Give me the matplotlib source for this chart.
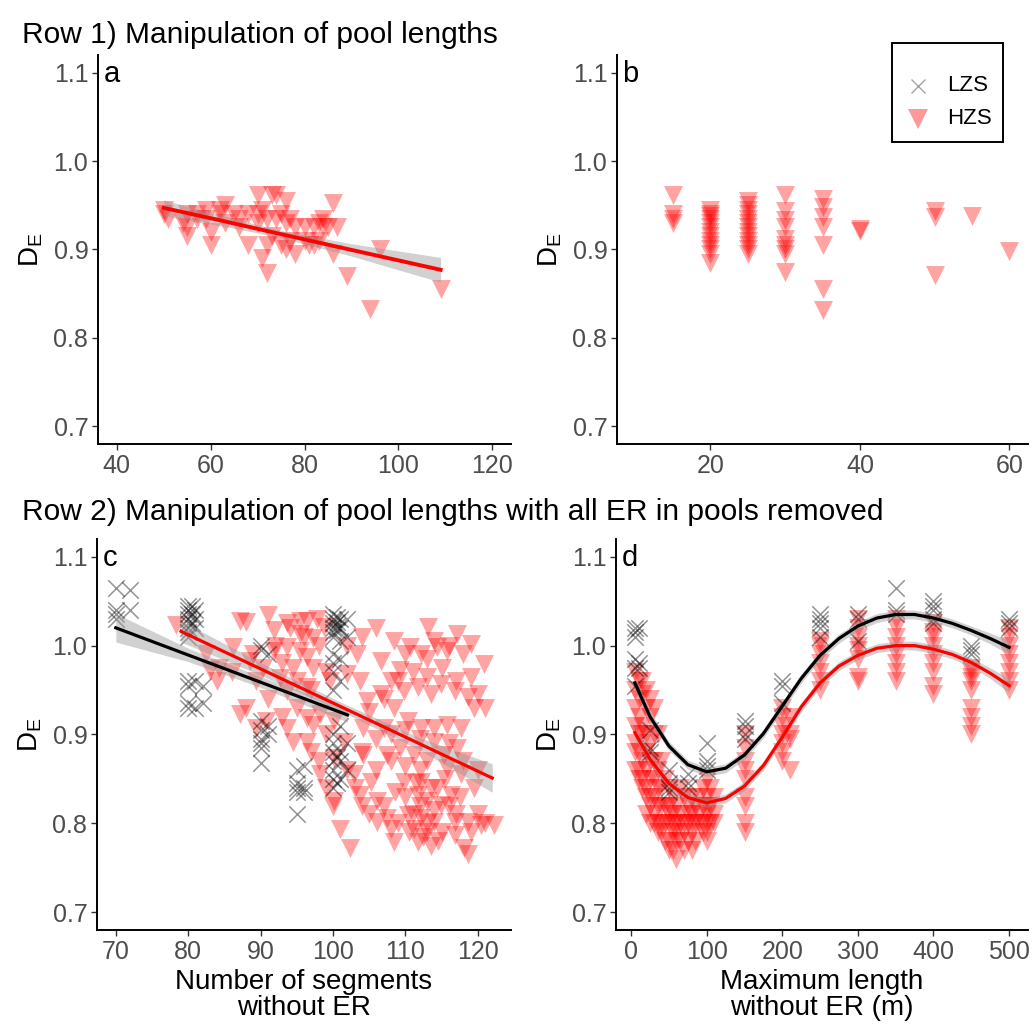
import numpy as np
import matplotlib
matplotlib.use('Agg')
import matplotlib.pyplot as plt
from matplotlib.lines import Line2D
from matplotlib.patches import Rectangle

plt.rcParams['font.family'] = ['Liberation Sans', 'DejaVu Sans']
plt.rcParams['mathtext.fontset'] = 'custom'
plt.rcParams['mathtext.rm'] = 'Liberation Sans'
plt.rcParams['mathtext.default'] = 'regular'

# Panel a: HZS, number of segments vs DE
a_x = [50, 50, 51, 54, 55, 55, 55, 57, 57, 59, 59, 60, 60, 62, 62, 63, 63, 65, 66, 66,
       68, 68, 70, 70, 70, 71, 71, 72, 72, 72, 73, 73, 74, 74, 75, 75, 76, 76, 76, 77,
       77, 78, 78, 80, 80, 81, 82, 82, 83, 83, 84, 84, 85, 86, 86, 87, 89, 94, 96, 109]
a_y = [0.94, 0.945, 0.935, 0.93, 0.915, 0.94, 0.925, 0.935, 0.94, 0.945, 0.935, 0.92, 0.905,
       0.945, 0.94, 0.95, 0.93, 0.94, 0.935, 0.925, 0.905, 0.94, 0.962, 0.94, 0.93, 0.89,
       0.945, 0.873, 0.935, 0.905, 0.962, 0.915, 0.962, 0.935, 0.94, 0.905, 0.955, 0.93,
       0.9, 0.935, 0.91, 0.925, 0.895, 0.925, 0.91, 0.905, 0.925, 0.905, 0.93, 0.91, 0.935,
       0.925, 0.925, 0.953, 0.895, 0.925, 0.87, 0.833, 0.9, 0.855]
a_fit_x = [50, 62, 74, 90, 109]
a_fit_y = [0.947, 0.933, 0.9185, 0.8995, 0.877]
a_fit_lo = [0.938, 0.927, 0.9145, 0.8925, 0.863]
a_fit_hi = [0.956, 0.939, 0.9225, 0.9065, 0.891]

# Panel b: HZS, maximum length vs DE
b_x = [15] * 4 + [20] * 13 + [25] * 13 + [30] * 9 + [35] * 7 + [40] * 2 + [50] * 3 + [55, 60]
b_y = [0.962, 0.94, 0.935, 0.93,
       0.945, 0.94, 0.938, 0.935, 0.93, 0.925, 0.92, 0.915, 0.91, 0.905, 0.9, 0.895, 0.885,
       0.955, 0.95, 0.945, 0.94, 0.935, 0.93, 0.925, 0.92, 0.915, 0.91, 0.905, 0.9, 0.895,
       0.962, 0.943, 0.933, 0.925, 0.912, 0.905, 0.9, 0.895, 0.874,
       0.957, 0.948, 0.937, 0.925, 0.905, 0.855, 0.832,
       0.923, 0.921,
       0.943, 0.937, 0.871,
       0.938, 0.898]

# Panel c: number of segments without ER
c_lzs_x = [70, 70, 70, 70, 72, 72,
           80, 80, 80, 80, 80, 80, 80, 80, 80, 80, 80, 80, 81, 81, 81, 81, 81, 82, 82,
           80.5, 80.5, 80.5,
           90, 90, 90, 90, 90, 90, 90, 90, 91, 91, 91,
           95, 95, 95, 95, 95, 96, 96, 96,
           100, 100, 100, 100, 100, 100, 100, 100, 100, 100, 100, 100, 100, 100, 100, 100, 100,
           101, 101, 101, 101, 101, 101, 101, 101, 101, 102, 102, 102, 102,
           100.5, 100.5, 100.5, 100.5, 100.5, 100.5]
c_lzs_y = [1.065, 1.04, 1.035, 1.03, 1.062, 1.04,
           1.045, 1.04, 1.035, 1.03, 1.025, 1.02, 1.015, 1.01, 0.96, 0.955, 0.935, 0.93,
           1.04, 1.03, 1.02, 0.96, 0.93, 0.935, 0.955,
           1.045, 1.035, 1.025,
           1.0, 0.995, 0.915, 0.905, 0.895, 0.89, 0.885, 0.868, 0.99, 0.91, 0.9,
           0.86, 0.845, 0.84, 0.835, 0.81, 0.84, 0.835, 0.865,
           1.035, 1.03, 1.025, 1.02, 1.015, 1.01, 0.99, 0.98, 0.97, 0.95, 0.9, 0.89, 0.88,
           0.87, 0.86, 0.85, 0.84,
           1.03, 1.02, 1.005, 0.985, 0.96, 0.91, 0.88, 0.87, 0.85, 1.03, 1.01, 0.89, 0.86,
           1.032, 1.027, 1.022, 1.017, 0.875, 0.845]
c_hzs_x = [78.3, 83, 86.2, 87.1, 88, 91, 91.8, 93.6, 95.5, 96.4, 97.8, 98.7, 95.5, 97.3, 93.6,
           91.8, 95.5, 96.4, 94.5, 97.3, 90.4, 89.4, 92.7, 90.8, 93.6, 94.5, 96.4, 97.3, 98.2,
           96.4, 100.1, 98.2, 100.1, 101, 102.4, 103.3, 103.8, 104.7, 104.2, 104.2, 105.2,
           106.1, 107.5, 108.4, 106.6, 108, 109.3, 110.7, 112.1, 113.1, 114.4, 115.8, 117.2,
           119.1, 120.9, 109.8, 111.7, 113.5, 114.9, 116.8, 118.6, 120, 110.3, 112.1, 114,
           115.8, 117.7, 109.3, 111.2, 113, 115.4, 117.2, 109.8, 111.7, 113, 114.4, 116.3,
           110.3, 112.1, 114, 116.8, 118.6, 120.5, 122.3, 111.7, 113.5, 118.1, 118.6, 107,
           107.5, 102.9, 103.8, 100.1, 101.5, 87.1, 89.4, 93.6, 96.4, 99.6, 101.9, 114, 115.8,
           117.7, 119.5, 108.4, 114, 108.4, 106.6, 112.1, 114.9, 106.1, 108, 116.8, 111.2, 113,
           82.5, 84.3, 88.5,
           105, 107, 109, 110, 111, 112, 113, 114, 115, 116, 117, 119, 120, 121, 110.5, 112.5,
           114.5, 108.5, 111.5, 113.5, 115.5, 117.5, 119.5, 106, 108, 110, 112, 104, 106, 108,
           110, 112, 116, 118, 120, 105, 107, 109, 111, 113, 115, 117, 119, 121, 110, 113, 116,
           118, 103, 104, 102, 99, 100, 98, 97, 99, 98, 96, 94, 92, 89, 86, 84, 93, 95, 97,
           99, 102, 104, 106, 88, 91, 95, 93]
c_hzs_y = [1.023, 0.972, 0.998, 1.028, 1.026, 1.034, 1.017, 1.025, 1.028, 1.028, 1.03, 1.021,
           1.013, 1.009, 0.998, 0.994, 0.994, 0.987, 0.975, 0.975, 0.975, 0.96, 0.964, 0.915,
           0.907, 0.892, 0.892, 0.911, 0.923, 0.919, 0.915, 0.855, 0.825, 0.794, 0.772, 0.99,
           0.96, 0.938, 0.907, 0.877, 0.847, 0.825, 0.806, 0.779, 0.983, 0.96, 0.972, 0.998,
           0.99, 1.021, 0.998, 0.994, 1.013, 1.002, 0.979, 0.949, 0.953, 0.945, 0.957, 0.949,
           0.942, 0.945, 0.915, 0.907, 0.907, 0.911, 0.907, 0.885, 0.877, 0.87, 0.877, 0.885,
           0.847, 0.832, 0.825, 0.84, 0.832, 0.809, 0.806, 0.802, 0.802, 0.802, 0.798, 0.798,
           0.779, 0.775, 0.772, 0.765, 0.907, 0.877, 0.855, 0.832, 0.874, 0.892, 0.923, 0.907,
           0.949, 0.953, 0.96, 0.968, 0.892, 0.862, 0.855, 0.93, 1.005, 1.005, 0.93, 0.945,
           0.847, 0.821, 0.802, 0.794, 0.787, 0.794, 0.79, 0.99, 0.975, 0.983,
           0.81, 0.82, 0.8, 0.83, 0.81, 0.82, 0.8, 0.815, 0.79, 0.82, 0.81, 0.79, 0.81, 0.8,
           0.79, 0.785, 0.78, 0.835, 0.845, 0.84, 0.85, 0.83, 0.84, 0.86, 0.87, 0.865, 0.86,
           0.88, 0.895, 0.9, 0.905, 0.895, 0.89, 0.87, 0.86, 0.925, 0.94, 0.96, 0.97, 0.965,
           0.975, 0.96, 0.965, 0.93, 0.99, 0.985, 1.0, 0.99, 0.84, 0.82, 0.86, 0.84, 0.82,
           0.87, 0.88, 0.9, 1.0, 1.01, 1.02, 1.0, 0.99, 0.97, 0.96, 0.98, 0.96, 0.95, 0.97,
           1.0, 1.01, 1.02, 0.93, 0.94, 0.93, 0.92]
c_lzs_fit_x = [70, 80, 90, 102]
c_lzs_fit_y = [1.020, 0.9894, 0.9588, 0.922]
c_lzs_fit_lo = [1.004, 0.982, 0.953, 0.914]
c_lzs_fit_hi = [1.036, 0.997, 0.965, 0.930]
c_hzs_fit_x = [79, 90, 101, 112, 122]
c_hzs_fit_y = [1.016, 0.9738, 0.9316, 0.8894, 0.851]
c_hzs_fit_lo = [1.004, 0.9668, 0.9266, 0.8824, 0.835]
c_hzs_fit_hi = [1.028, 0.9808, 0.9366, 0.8964, 0.867]

# Panel d: maximum length without ER
d_lzs_x = [5, 5, 5, 5, 5, 5, 10, 10, 10, 25, 25, 25, 50, 50, 50, 50, 75, 75, 75,
           100, 100, 100, 100, 150, 150, 150, 150, 200, 200, 200,
           250, 250, 250, 250, 250, 300, 300, 300, 350, 350, 350,
           400, 400, 400, 400, 400, 450, 450, 450, 500, 500, 500]
d_lzs_y = [1.02, 1.015, 1.01, 0.985, 0.975, 0.955, 1.02, 0.98, 0.975, 0.905, 0.885, 0.88,
           0.86, 0.845, 0.84, 0.835, 0.855, 0.845, 0.84, 0.89, 0.87, 0.865, 0.86,
           0.915, 0.91, 0.9, 0.895, 0.96, 0.955, 0.935,
           1.035, 1.03, 1.025, 1.02, 1.01, 1.035, 1.03, 1.005, 1.065, 1.04, 1.035,
           1.05, 1.045, 1.04, 1.03, 1.025, 1.0, 0.995, 0.99, 1.03, 1.025, 1.02]
d_hzs_x = ([5] * 7 + [10] * 7 + [15] * 7 + [20] * 8 + [25] * 8 + [30] * 7 + [35] * 6
           + [40] * 5 + [45] * 4 + [50] * 6 + [55] * 5 + [60] * 5 + [65] * 4 + [70] * 4
           + [75] * 4 + [80] * 5 + [85] * 3 + [90] * 3 + [95] * 4 + [100] * 7 + [105] * 3
           + [110] * 3 + [150] * 9 + [200] * 7 + [210] * 4 + [250] * 7 + [300] * 8
           + [350] * 8 + [400] * 9 + [450] * 9 + [500] * 8)
d_hzs_y = [0.97, 0.95, 0.93, 0.91, 0.89, 0.88, 0.86,
           0.96, 0.94, 0.92, 0.9, 0.88, 0.86, 0.85,
           0.96, 0.945, 0.91, 0.9, 0.87, 0.85, 0.84,
           0.95, 0.93, 0.9, 0.88, 0.86, 0.84, 0.83, 0.81,
           0.94, 0.92, 0.89, 0.87, 0.85, 0.83, 0.82, 0.8,
           0.93, 0.9, 0.87, 0.85, 0.83, 0.81, 0.8,
           0.9, 0.86, 0.84, 0.82, 0.8, 0.79,
           0.87, 0.84, 0.82, 0.8, 0.79,
           0.85, 0.82, 0.8, 0.78,
           0.84, 0.82, 0.81, 0.8, 0.78, 0.77,
           0.83, 0.81, 0.8, 0.79, 0.77,
           0.82, 0.8, 0.79, 0.78, 0.76,
           0.84, 0.81, 0.8, 0.78,
           0.83, 0.8, 0.79, 0.77,
           0.82, 0.81, 0.8, 0.78,
           0.83, 0.81, 0.8, 0.79, 0.77,
           0.82, 0.8, 0.78,
           0.83, 0.81, 0.8,
           0.84, 0.82, 0.8, 0.79,
           0.85, 0.83, 0.82, 0.81, 0.8, 0.79, 0.78,
           0.84, 0.82, 0.8,
           0.83, 0.81, 0.8,
           0.9, 0.885, 0.87, 0.86, 0.85, 0.83, 0.82, 0.8, 0.79,
           0.93, 0.92, 0.91, 0.9, 0.89, 0.88, 0.87,
           0.92, 0.9, 0.895, 0.86,
           1.005, 1.0, 0.99, 0.98, 0.97, 0.96, 0.95,
           1.03, 1.02, 1.01, 1.0, 0.995, 0.985, 0.965, 0.96,
           1.03, 1.02, 1.01, 1.0, 0.99, 0.98, 0.97, 0.96,
           1.025, 1.015, 1.01, 1.0, 0.99, 0.98, 0.97, 0.955, 0.945,
           0.975, 0.97, 0.965, 0.96, 0.95, 0.93, 0.92, 0.91, 0.9,
           1.02, 1.01, 1.0, 0.99, 0.98, 0.97, 0.96, 0.95]
d_fit_x = [5, 25, 50, 75, 100, 125, 150, 175, 200, 225, 250, 275, 300, 325, 350, 375,
           400, 425, 450, 475, 500]
d_lzs_fit_y = [0.958, 0.920, 0.887, 0.866, 0.858, 0.862, 0.877, 0.901, 0.932, 0.963, 0.989,
               1.008, 1.022, 1.031, 1.035, 1.035, 1.031, 1.025, 1.017, 1.008, 0.998]
d_hzs_fit_y = [0.902, 0.872, 0.845, 0.829, 0.823, 0.828, 0.842, 0.865, 0.897, 0.931, 0.958,
               0.977, 0.989, 0.997, 1.000, 1.000, 0.996, 0.990, 0.981, 0.969, 0.955]
d_band_half = [0.008, 0.006, 0.005, 0.005, 0.005, 0.005, 0.005, 0.005, 0.005, 0.005, 0.005,
               0.005, 0.005, 0.005, 0.005, 0.005, 0.005, 0.005, 0.005, 0.006, 0.008]

RED = '#FF0000'
TICK_GREY = '#4D4D4D'
yticks = [0.7, 0.8, 0.9, 1.0, 1.1]
W, H = 1032, 1026

fig = plt.figure(figsize=(10.32, 10.26), dpi=100)
ax_a = fig.add_axes([0.0950, 0.5673, 0.4002, 0.3791])
ax_b = fig.add_axes([0.5979, 0.5673, 0.3983, 0.3791])
ax_c = fig.add_axes([0.0940, 0.0936, 0.4012, 0.3811])
ax_d = fig.add_axes([0.5969, 0.0936, 0.3992, 0.3811])


def style(ax, letter, xlim, xticks):
    ax.set_xlim(*xlim)
    ax.set_ylim(0.68, 1.12)
    ax.set_xticks(xticks)
    ax.set_yticks(yticks)
    ax.set_yticklabels(['%.1f' % v for v in yticks])
    for s in ['top', 'right']:
        ax.spines[s].set_visible(False)
    for s in ['left', 'bottom']:
        ax.spines[s].set_linewidth(1.4)
        ax.spines[s].set_color('black')
    ax.tick_params(direction='out', length=4, width=1.0, color='#333333',
                   labelsize=18, labelcolor=TICK_GREY, pad=3)
    ax.set_ylabel('$D_E$', fontsize=20, labelpad=6)
    ax.text(0.013, 0.93, letter, transform=ax.transAxes, fontsize=21,
            va='baseline', ha='left')


def hzs(ax, x, y):
    ax.scatter(x, y, marker='v', s=185, color=RED, alpha=0.36, linewidths=0, zorder=2)


def lzs(ax, x, y):
    ax.scatter(x, y, marker='x', s=140, color='black', alpha=0.42, linewidths=1.1, zorder=3)


# a
hzs(ax_a, a_x, a_y)
ax_a.fill_between(a_fit_x, a_fit_lo, a_fit_hi, color='#999999', alpha=0.45, lw=0, zorder=4)
ax_a.plot(a_fit_x, a_fit_y, color=RED, lw=2.8, zorder=5)
style(ax_a, 'a', (36, 124), [40, 60, 80, 100, 120])

# b
hzs(ax_b, b_x, b_y)
style(ax_b, 'b', (7.5, 62.5), [20, 40, 60])

# c
hzs(ax_c, c_hzs_x, c_hzs_y)
lzs(ax_c, c_lzs_x, c_lzs_y)
ax_c.fill_between(c_lzs_fit_x, c_lzs_fit_lo, c_lzs_fit_hi, color='#999999', alpha=0.45,
                  lw=0, zorder=4)
ax_c.fill_between(c_hzs_fit_x, c_hzs_fit_lo, c_hzs_fit_hi, color='#999999', alpha=0.45,
                  lw=0, zorder=4)
ax_c.plot(c_lzs_fit_x, c_lzs_fit_y, color='black', lw=2.3, zorder=5)
ax_c.plot(c_hzs_fit_x, c_hzs_fit_y, color=RED, lw=2.3, zorder=5)
style(ax_c, 'c', (67.4, 124.6), [70, 80, 90, 100, 110, 120])
ax_c.set_xlabel('Number of segments\nwithout ER', fontsize=20, labelpad=4, linespacing=1.0)

# d
hzs(ax_d, d_hzs_x, d_hzs_y)
lzs(ax_d, d_lzs_x, d_lzs_y)
lo = np.array(d_lzs_fit_y) - np.array(d_band_half)
hi = np.array(d_lzs_fit_y) + np.array(d_band_half)
ax_d.fill_between(d_fit_x, lo, hi, color='#999999', alpha=0.45, lw=0, zorder=4)
lo = np.array(d_hzs_fit_y) - np.array(d_band_half)
hi = np.array(d_hzs_fit_y) + np.array(d_band_half)
ax_d.fill_between(d_fit_x, lo, hi, color='#999999', alpha=0.45, lw=0, zorder=4)
ax_d.plot(d_fit_x, d_lzs_fit_y, color='black', lw=2.3, zorder=5)
ax_d.plot(d_fit_x, d_hzs_fit_y, color=RED, lw=2.3, zorder=5)
style(ax_d, 'd', (-20, 525), [0, 100, 200, 300, 400, 500])
ax_d.set_xlabel('Maximum length\nwithout ER (m)', fontsize=20, labelpad=4, linespacing=1.0)

# row titles
fig.text(0.021, 0.958, 'Row 1) Manipulation of pool lengths', fontsize=21.5, va='baseline')
fig.text(0.021, 0.4932, 'Row 2) Manipulation of pool lengths with all ER in pools removed',
         fontsize=21.5, va='baseline')

# legend box drawn by hand to match the ggplot key layout
fig.patches.append(Rectangle((891.7 / W, 1 - 141.7 / H), 111 / W, 98.4 / H,
                             transform=fig.transFigure, fill=False, ec='black', lw=1.4))
fig.add_artist(Line2D([918 / W], [1 - 86 / H], marker='x', ms=10, mew=1.0, ls='none',
                      color='black', alpha=0.35, transform=fig.transFigure))
fig.add_artist(Line2D([918 / W], [1 - 119 / H], marker='v', ms=14, mew=0, ls='none',
                      color=RED, alpha=0.4, transform=fig.transFigure))
fig.text(947 / W, 1 - 86 / H, 'LZS', va='center', ha='left', fontsize=16)
fig.text(947 / W, 1 - 119 / H, 'HZS', va='center', ha='left', fontsize=16)

fig.savefig('out.png', dpi=100)
